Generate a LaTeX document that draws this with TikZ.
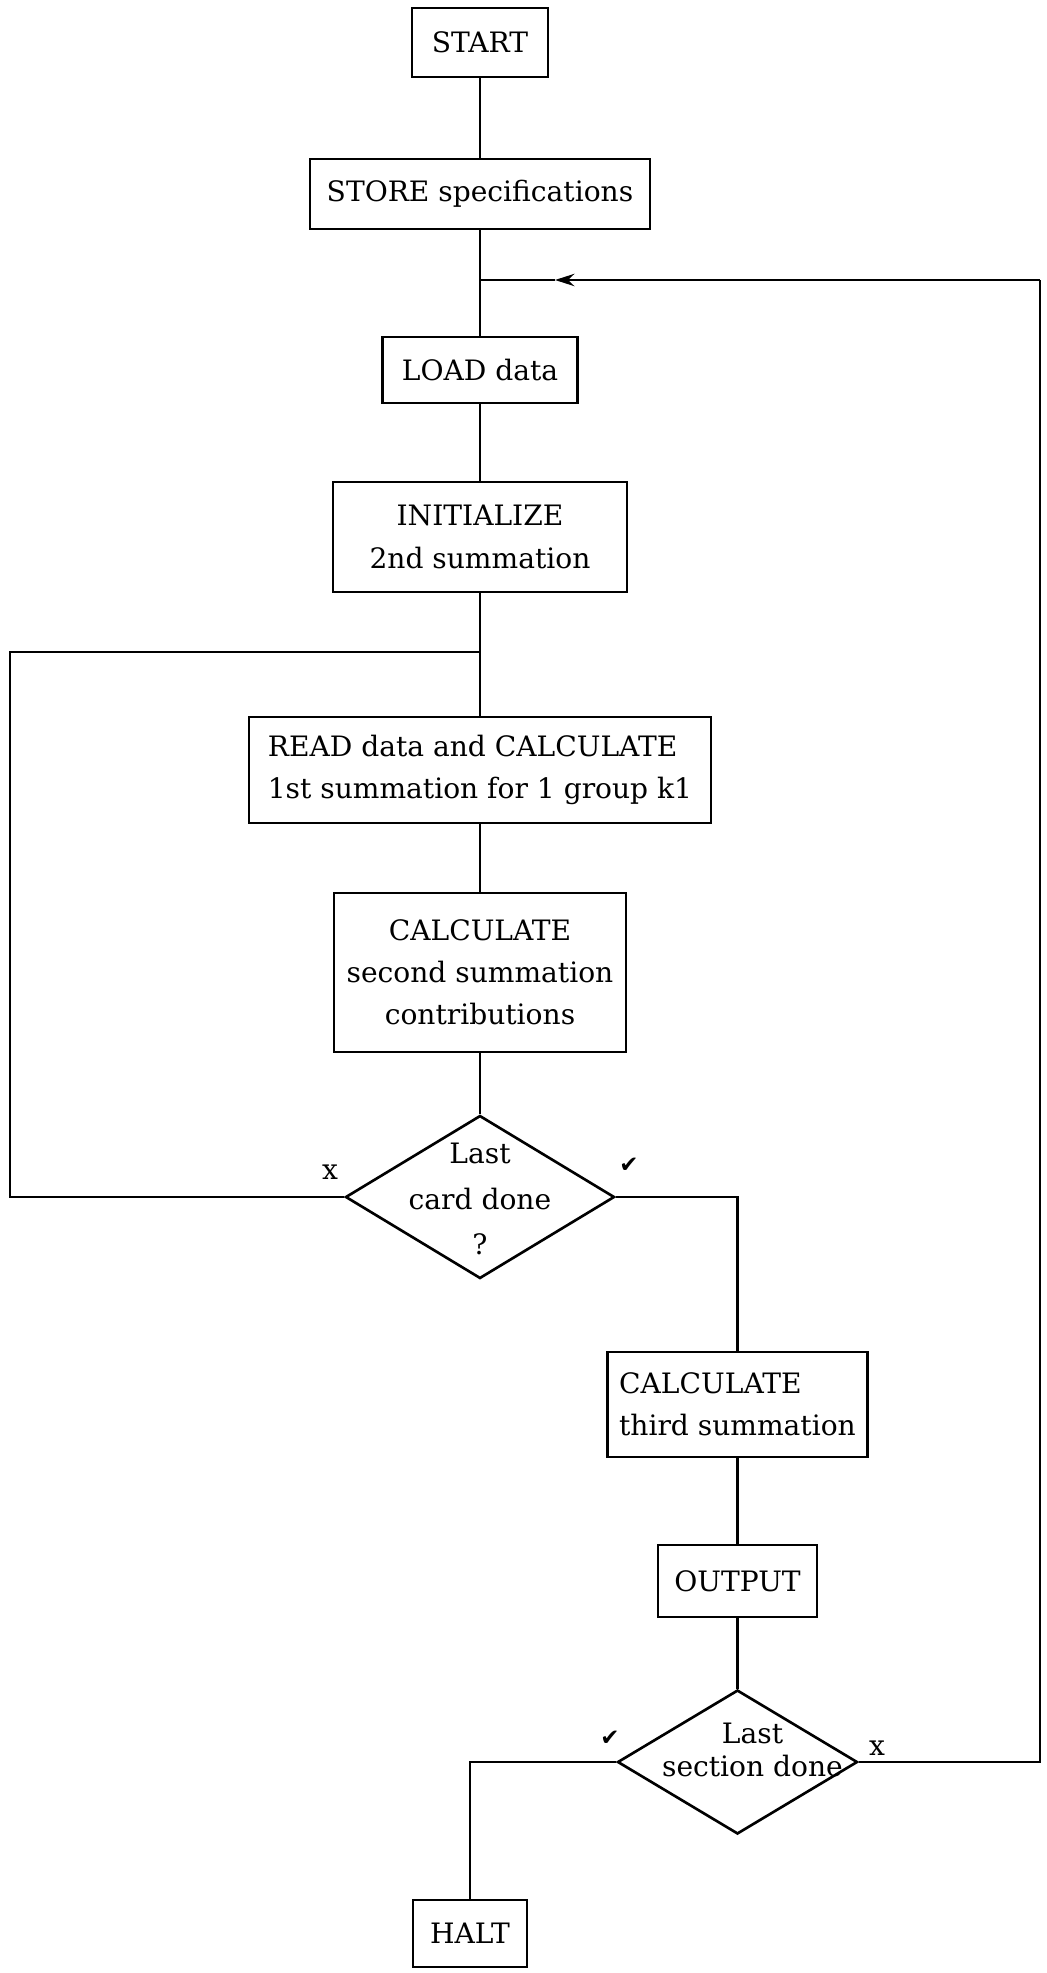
\documentclass[tikz,border=0pt]{standalone}
\usepackage{fontspec}
\setmainfont{DejaVu Serif}
\newfontfamily\symfont{DejaVu Sans}
\usepackage{tikz}
\usetikzlibrary{shapes.geometric,calc}
\usetikzlibrary{arrows.meta}

\begin{document}
\begin{tikzpicture}[
    box/.style={draw, line width=1.6pt, font=\fontsize{16}{24}\selectfont, inner sep=2pt},
    decision/.style={draw, diamond, line width=1.5pt, inner sep=0pt},
    txt/.style={font=\fontsize{16}{24}\selectfont, inner sep=0pt},
    tick/.style={font=\symfont\fontsize{13}{13}\selectfont, inner sep=0pt},
    flow/.style={line width=1.4pt}
    ]
    \useasboundingbox (0,0) rectangle (20.92,-39.46);
    
    % main column
    \node[box, minimum width=2.72cm, minimum height=1.38cm] (start) at (9.6,-0.85) {START};
    \node[box, minimum width=6.8cm, minimum height=1.4cm] (store) at (9.6,-3.88) {STORE specifications};
    \node[box, minimum width=3.9cm, minimum height=1.32cm] (load) at (9.6,-7.4) {LOAD data};
    \node[box, minimum width=5.88cm, minimum height=2.2cm, align=center] (init) at (9.6,-10.74) {INITIALIZE\\2nd summation};
    \node[box, minimum width=9.24cm, minimum height=2.12cm, align=left] (read) at (9.6,-15.4) {READ data and CALCULATE\\1st summation for 1 group k1};
    \node[box, minimum width=5.84cm, minimum height=3.18cm, align=center] (calc2) at (9.6,-19.45) {CALCULATE\\second summation\\contributions};
    \node[decision, minimum width=5.38cm, minimum height=3.26cm] (dcard) at (9.6,-23.94) {};
    \node[txt, align=center, font=\fontsize{16}{26}\selectfont] (dcardtxt) at (9.6,-23.98) {Last\\card done\\?};
    
    % second column
    \node[box, minimum width=5.2cm, minimum height=2.1cm, align=left] (calc3) at (14.75,-28.09) {CALCULATE\\third summation};
    \node[box, minimum width=3.18cm, minimum height=1.44cm] (output) at (14.75,-31.62) {OUTPUT};
    \node[decision, minimum width=4.8cm, minimum height=2.88cm] (dsec) at (14.75,-35.24) {};
    \node[txt, align=center, font=\fontsize{16}{19}\selectfont] (dsectxt) at (15.05,-35.0) {Last\\section done};
    \node[box, minimum width=2.28cm, minimum height=1.34cm] (halt) at (9.4,-38.67) {HALT};
    
    % yes / no
    \node[txt] (nocard) at (6.6,-23.44) {x};
    \node[tick] (yescard) at (12.58,-23.3) {✔};
    \node[txt] (nosec) at (17.54,-34.96) {x};
    \node[tick] (yessec) at (12.2,-34.76) {✔};
    
    \coordinate (loopin) at (9.6,-5.6);
    \coordinate (tip) at (11.1,-5.6);
    \coordinate (rtop) at (20.8,-5.6);
    \coordinate (rbot) at (20.8,-35.24);
    \coordinate (leftin) at (9.6,-13.04);
    \coordinate (lbot) at (0.2,-23.94);
    
    \draw[flow] (start) -- (store);
    \draw[flow] (store) -- (load);
    \draw[flow] (load) -- (init);
    \draw[flow] (init) -- (read);
    \draw[flow] (read) -- (calc2);
    \draw[flow] (calc2) -- (dcard);
    \draw[flow] (dcard.west) -- (lbot) |- (leftin);
    \draw[flow] (dcard.east) -| (calc3.north);
    \draw[flow] (calc3) -- (output);
    \draw[flow] (output) -- (dsec);
    \draw[flow] (dsec.west) -| (halt.north);
    \draw[flow] (dsec.east) -- (rbot) -- (rtop);
    \draw[flow, -{Stealth[length=11pt, width=7pt]}] (rtop) -- (tip);
    \draw[flow] (tip) -- (loopin);
    
\end{tikzpicture}
\end{document}
